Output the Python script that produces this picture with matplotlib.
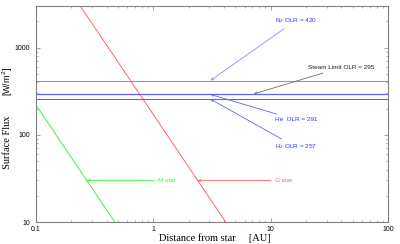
import numpy as np
import matplotlib.pyplot as plt
from matplotlib.ticker import LogLocator, NullFormatter

plt.rcParams['font.family'] = ['Liberation Sans', 'DejaVu Sans']

# data
d_range = [0.1, 100.0]          # AU
g_star_f0 = 171.0               # flux at 1 AU, W/m^2
m_star_f0 = 2.2
olr_names = ['N$_2$ OLR = 420', 'Steam Limit OLR = 295', 'He  OLR = 291', 'H$_2$ OLR = 257']
olr_vals = [420, 295, 291, 257]
olr_cols = ['#8c8cff', '#707070', '#6060ff', '#6060ff']
olr_text_xy = [(10.8, 2050), (21.0, 594), (10.8, 149), (10.8, 73)]
olr_arrow_x = [3.07, 7.2, 3.07, 3.07]
star_names = ['M star', 'G star']
star_f0 = [m_star_f0, g_star_f0]
star_cols = ['#44ee44', '#ff6666']
star_text_x = [1.1, 10.8]
star_arrow_f = 30.0

fig = plt.figure(figsize=(4, 2.44), dpi=100)
ax = fig.add_axes([0.09, 0.09, 0.88, 0.885])

d = np.logspace(-1, 2, 400)
for f0, c in zip(star_f0, star_cols):
    ax.plot(d, f0 / d**2, color=c, lw=0.7)

for v, c in zip(olr_vals, olr_cols):
    ax.axhline(v, color=c, lw=0.8)

ax.set_xscale('log')
ax.set_yscale('log')
ax.set_xlim(d_range)
ax.set_ylim(10, 3000)

# OLR annotations
for name, v, c, txy, ax_x in zip(olr_names, olr_vals, olr_cols, olr_text_xy, olr_arrow_x):
    tc = '#3333ff' if c != '#707070' else '#202020'
    ax.annotate(name, xy=(ax_x, v), xytext=txy, fontsize=4.6, color=tc,
                va='center', ha='left',
                arrowprops=dict(arrowstyle='->', color=c, lw=0.6,
                                shrinkA=1, shrinkB=0, mutation_scale=4))

# star annotations
for name, f0, c, tx in zip(star_names, star_f0, star_cols, star_text_x):
    px = np.sqrt(f0 / star_arrow_f)
    ax.annotate(name, xy=(px, star_arrow_f), xytext=(tx, star_arrow_f), fontsize=4.6,
                color=c, va='center', ha='left',
                arrowprops=dict(arrowstyle='->', color=c, lw=0.6,
                                shrinkA=1, shrinkB=0, mutation_scale=4))

ax.set_xticks([0.1, 1, 10, 100])
ax.set_xticklabels(['0.1', '1', '10', '100'])
ax.set_yticks([10, 100, 1000])
ax.set_yticklabels(['10', '100', '1000'])
ax.xaxis.set_minor_locator(LogLocator(base=10, subs=np.arange(2, 10)))
ax.yaxis.set_minor_locator(LogLocator(base=10, subs=np.arange(2, 10)))
ax.xaxis.set_minor_formatter(NullFormatter())
ax.yaxis.set_minor_formatter(NullFormatter())
ax.tick_params(which='both', direction='in', top=True, right=True,
               labelsize=5, color='#909090', pad=4)
ax.tick_params(axis='x', pad=2.5)
ax.tick_params(which='major', length=3, width=0.6)
ax.tick_params(which='minor', length=1.5, width=0.5)
for s in ax.spines.values():
    s.set_color('#808080')
    s.set_linewidth(0.8)

fig.text(0.5375, 0.022, 'Distance from star     [AU]', family='Liberation Serif',
         fontsize=7.5, ha='center', va='center')
fig.text(0.02, 0.418, 'Surface Flux', family='Liberation Serif', fontsize=7.5,
         rotation=90, ha='center', va='center')
fig.text(0.02, 0.668, '[W/m$^2$]', fontsize=6.5, rotation=90, ha='center', va='center')

fig.savefig('out.png', dpi=100)
